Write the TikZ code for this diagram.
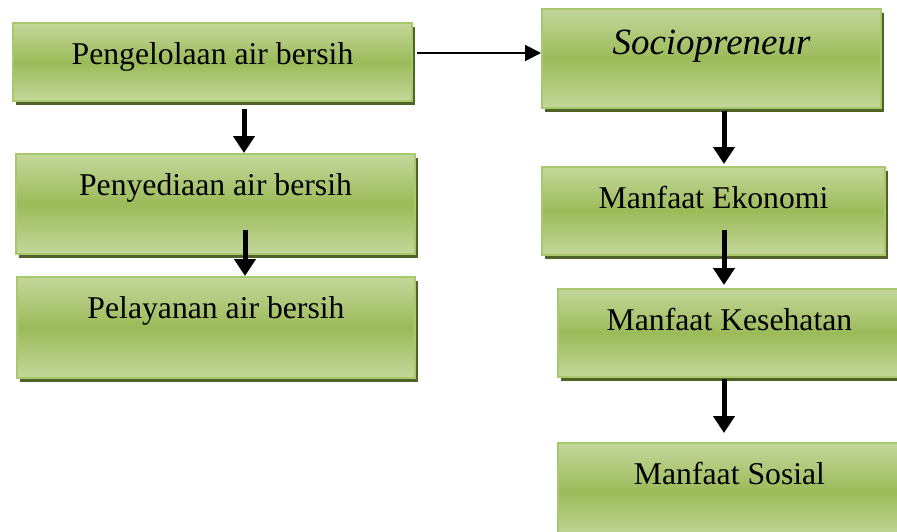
\documentclass[tikz,border=0pt]{standalone}
\usepackage{fontspec}
\setmainfont{Liberation Serif}
\usetikzlibrary{arrows.meta,shadows}
\definecolor{boxtop}{RGB}{196,215,155}
\definecolor{boxmid}{RGB}{155,187,89}
\definecolor{boxline}{RGB}{168,200,108}
\definecolor{boxshadow}{RGB}{79,98,40}

\begin{document}
\begin{tikzpicture}[x=1pt,y=-1pt,
    stage/.style 2 args={rectangle, anchor=north west, draw=boxline, line width=2pt,
        top color=boxtop, bottom color=boxtop, middle color=boxmid,
        inner sep=0pt, minimum width=#1, text height=41pt, text depth=#2,
        drop shadow={shadow xshift=3pt, shadow yshift=-4pt, fill=boxshadow, opacity=1},
        font=\fontsize{31.7}{36}\selectfont},
    flow/.style={line width=5pt, -{Triangle[width=21pt,length=17pt]}},
    link/.style={line width=2pt, -{Triangle[width=16pt,length=16pt]}}]
%\draw [help lines] (0,0) grid[step=50] (897,531);
    \useasboundingbox (0,0) rectangle (897,531);
    % left column
    \node [stage={399pt}{37pt}] (manage) at (12,22) {Pengelolaan air bersih};
    \node [stage={399pt}{59pt}] (supply) at (15,153) {Penyediaan air bersih};
    \node [stage={398pt}{60pt}] (serve) at (16,276) {Pelayanan air bersih};
    % right column
    \node [stage={339pt}{54pt}, text height=45pt, font=\fontsize{37}{42}\selectfont\itshape] (socio) at (541,8) {Sociopreneur};
    \node [stage={343pt}{47pt}] (econ) at (541,166) {Manfaat Ekonomi};
    \node [stage={343pt}{47pt}] (health) at (557,288) {Manfaat Kesehatan};
    \node [stage={343pt}{56pt}] (social) at (557,442) {Manfaat Sosial};
    % arrows
    \draw [flow] ([xshift=31.5pt,yshift=-7pt]manage.south) -- ([xshift=31.5pt]manage.south |- supply.north);
    \draw [flow] ([xshift=29.5pt,yshift=25pt]supply.south) -- ([xshift=29.5pt]supply.south |- serve.north);
    \draw [link] ([xshift=4pt,yshift=9pt]manage.east) -- ([yshift=9pt]manage.east -| socio.west);
    \draw [flow] ([xshift=12.5pt,yshift=-2pt]socio.south) -- ([xshift=12.5pt,yshift=2pt]socio.south |- econ.north);
    \draw [flow] ([xshift=10.5pt,yshift=26pt]econ.south) -- ([xshift=10.5pt,yshift=3pt]econ.south |- health.north);
    \draw [flow] ([xshift=-5.5pt,yshift=-1pt]health.south) -- ([xshift=-5.5pt,yshift=9pt]health.south |- social.north);
\end{tikzpicture}
\end{document}
